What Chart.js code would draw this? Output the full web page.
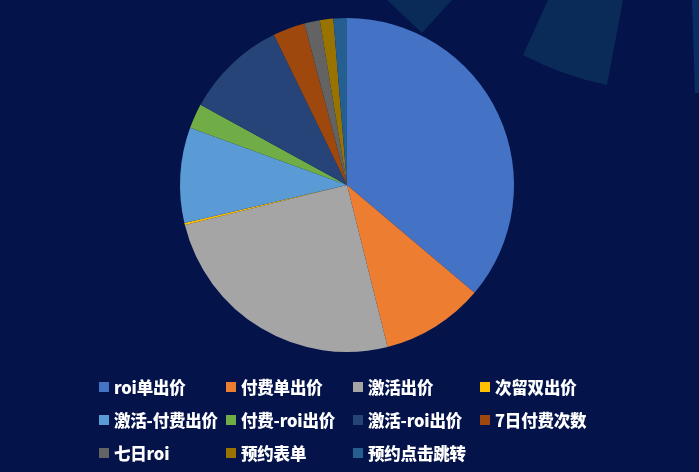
<!DOCTYPE html>
<html>
<head>
<meta charset="utf-8">
<script src="https://cdn.jsdelivr.net/npm/chart.js@4/dist/chart.umd.min.js"></script>
<style>
  html, body { margin: 0; padding: 0; background: #04144a; }
  #wrap { position: relative; width: 699px; height: 472px; overflow: hidden; }
  #pie { position: absolute; left: 0; top: 0; }
  #legend {
    position: absolute; left: 99px; top: 374px;
    display: grid; grid-template-columns: repeat(4, 127px); grid-auto-rows: 33px;
    font-family: "Noto Sans CJK SC", "Noto Sans", sans-serif; font-weight: 900;
    font-size: 16.5px; color: #fff; letter-spacing: -0.2px;
  }
  .item { display: flex; align-items: center; white-space: nowrap; height: 26px; }
  .box { width: 10px; height: 10px; margin-right: 5px; flex: none; }
</style>
</head>
<body>
<div id="wrap">
  <canvas id="pie" width="699" height="472"></canvas>
  <div id="legend"></div>
</div>
<script>
const labels = ['roi单出价', '付费单出价', '激活出价', '次留双出价', '激活-付费出价', '付费-roi出价',
                '激活-roi出价', '7日付费次数', '七日roi', '预约表单', '预约点击跳转'];
const shares = [36.1, 9.9, 25.0, 0.2, 9.2, 2.4, 9.8, 3.1, 1.5, 1.3, 1.3];
const colors = ['#4472c4', '#ed7d31', '#a5a5a5', '#ffc000', '#5b9bd5', '#70ad47',
                '#264478', '#9e480e', '#636363', '#997300', '#255e91'];

// background decoration shapes (top right)
const decor = {
  id: 'decor',
  beforeDraw(chart) {
    const c = chart.ctx;
    c.save();
    c.fillStyle = '#04144a';
    c.fillRect(0, 0, chart.width, chart.height);
    c.fillStyle = '#0a2a58';
    c.beginPath();
    c.moveTo(387, 0); c.lineTo(452, 0); c.lineTo(422, 33); c.closePath();
    c.fill();
    c.beginPath();
    c.moveTo(548, 0); c.lineTo(623, 0); c.lineTo(607, 85);
    c.quadraticCurveTo(563, 76, 523, 55); c.closePath();
    c.fill();
    c.fillStyle = '#0b2d66';
    c.beginPath();
    c.moveTo(692, 0); c.lineTo(699, 0); c.lineTo(699, 93); c.lineTo(695, 93); c.closePath();
    c.fill();
    c.restore();
  }
};

new Chart(document.getElementById('pie'), {
  type: 'pie',
  data: {
    labels: labels,
    datasets: [{
      data: shares,
      backgroundColor: colors,
      borderWidth: 0
    }]
  },
  options: {
    responsive: false,
    animation: false,
    layout: { padding: { top: 18, bottom: 120, left: 0, right: 5 } },
    plugins: { legend: { display: false }, tooltip: { enabled: false } }
  },
  plugins: [decor]
});

const legend = document.getElementById('legend');
labels.forEach((name, i) => {
  const item = document.createElement('div');
  item.className = 'item';
  item.innerHTML = '<span class="box" style="background:' + colors[i] + '"></span><span>' + name + '</span>';
  legend.appendChild(item);
});
</script>
</body>
</html>
